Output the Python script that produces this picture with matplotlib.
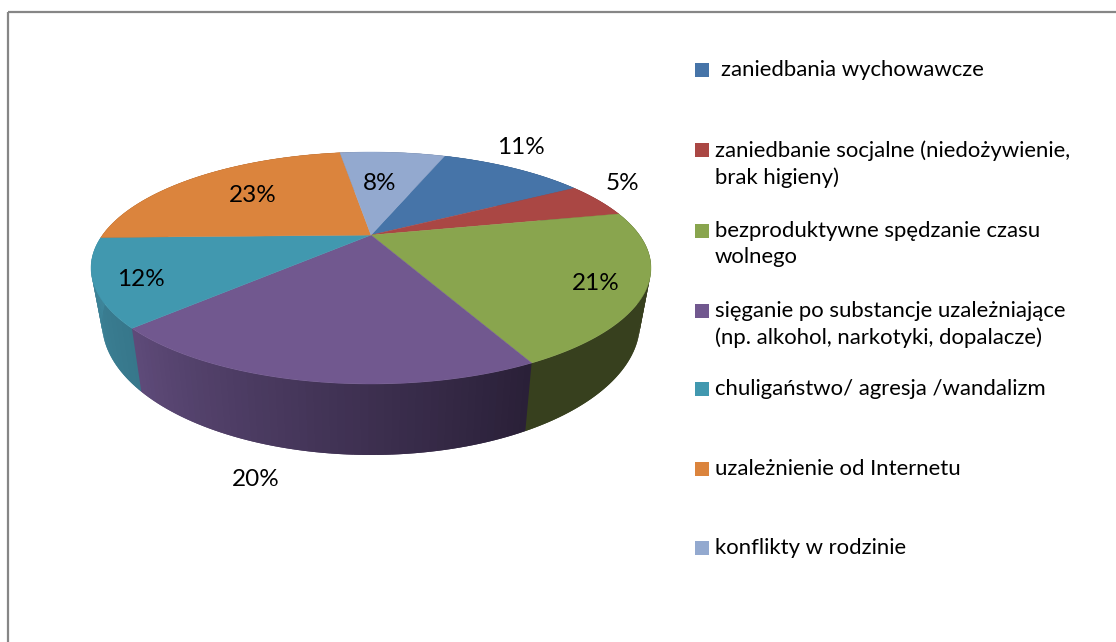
import numpy as np
import matplotlib
matplotlib.use("Agg")
from matplotlib import pyplot as plt
from matplotlib.colors import to_rgb
from matplotlib.patches import Rectangle

plt.rcParams['font.family'] = ['Lato', 'DejaVu Sans']

categories = ["zaniedbania wychowawcze",
              "zaniedbanie socjalne (niedożywienie,\nbrak higieny)",
              "bezproduktywne spędzanie czasu\nwolnego",
              "sięganie po substancje uzależniające\n(np. alkohol, narkotyki, dopalacze)",
              "chuligaństwo/ agresja /wandalizm",
              "uzależnienie od Internetu",
              "konflikty w rodzinie"]
values = [11, 5, 21, 20, 12, 23, 8]

colors = ["#4674A8", "#AA4744", "#89A54E", "#71588F", "#4198AF", "#DB843D", "#93A9CF"]
wall_colors = [("#2F4D70", "#2F4D70"), ("#712F2D", "#712F2D"), ("#37401E", "#383F1E"),
               ("#5F4B7A", "#2A2038"), ("#3F899E", "#37778B"), ("#91572A", "#91572A"),
               ("#62708A", "#62708A")]
label_pos = [(521, 148), (622, 184), (596, 284), (256, 480), (141, 280), (253, 196), (380, 183)]
legend_y = [70, 150, 231, 311, 389, 469, 548]
legend_text_x = [721, 715, 715, 715, 715, 715, 715]

START = 20.3
K = 0.284  # pie centre sits above the ellipse centre (perspective)
TOP = (371, 268, 280, 116)
BOTTOM = (371, 323, 269, 132)


def project(theta, rim, r=1.0):
    # theta: degrees clockwise from the top of the pie
    t = np.radians(theta)
    x, y = r * np.sin(t), r * np.cos(t)
    d = 1 + K * y
    px = x * np.sqrt(1 - K ** 2) / d
    py = (y + K) / d
    return rim[0] + rim[2] * px, rim[1] - rim[3] * py


fig = plt.figure(figsize=(11.16, 6.42), dpi=100)
ax = fig.add_axes([0, 0, 1, 1])
ax.set_xlim(0, 1116)
ax.set_ylim(642, 0)
ax.axis("off")

# chart frame, cut off on the right and at the bottom
ax.plot([8, 8], [642, 12], color="#868686", lw=1.6, solid_capstyle="butt")
ax.plot([8, 1116], [12, 12], color="#868686", lw=1.6, solid_capstyle="butt")

edges = START + np.cumsum([0] + values) * 3.6

# side walls, each strip overlaps the next one so no seams show
for i, v in enumerate(values):
    a0, a1 = edges[i], edges[i + 1]
    steps = np.linspace(a0, a1, max(int(v * 3), 8))
    c0, c1 = np.array(to_rgb(wall_colors[i][0])), np.array(to_rgb(wall_colors[i][1]))
    # purple and teal get lighter towards the left, i.e. with growing angle
    for s0, s1 in zip(steps[:-1], steps[1:]):
        f = (s0 - a0) / (a1 - a0)
        col = c1 + (c0 - c1) * f
        s2 = s1 + (s1 - s0)
        x0, y0 = project(s0, TOP)
        x1, y1 = project(s2, TOP)
        x2, y2 = project(s2, BOTTOM)
        x3, y3 = project(s0, BOTTOM)
        ax.fill([x0, x1, x2, x3], [y0, y1, y2, y3], color=col, lw=0, zorder=2)

# top face
for i, v in enumerate(values):
    th = np.linspace(edges[i], edges[i + 1], 120)
    xs, ys = project(th, TOP)
    cx, cy = project(0.0, TOP, r=0.0)
    ax.fill(np.r_[cx, xs], np.r_[cy, ys], color=colors[i], lw=0.3, zorder=3)

for v, (lx, ly) in zip(values, label_pos):
    ax.text(lx, ly, f"{v}%", ha="center", va="center", fontsize=17.5, color="black", zorder=5)

# legend
for name, col, ly, tx in zip(categories, colors, legend_y, legend_text_x):
    ax.add_patch(Rectangle((695, ly - 7), 14, 14, facecolor=col, edgecolor="none", zorder=4))
    ax.text(tx, ly - 10, name, ha="left", va="top", fontsize=15.95, color="black",
            linespacing=1.4, zorder=5)

fig.savefig("out.png", dpi=100)
